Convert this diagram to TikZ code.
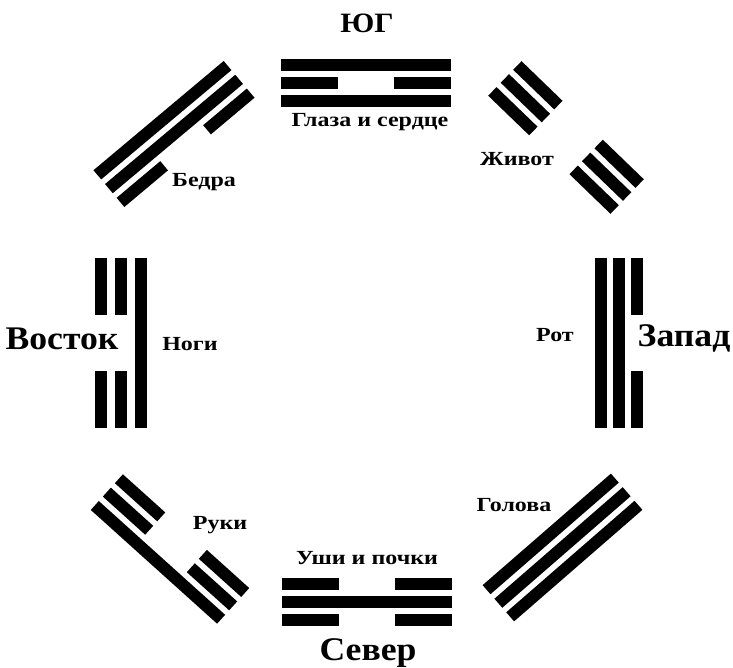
\documentclass[tikz,border=0pt]{standalone}
\usepackage{fontspec}
\setmainfont{Liberation Serif}
\newfontfamily\sidefont[FakeStretch=1.08]{Liberation Serif}
\newfontfamily\partfont[FakeStretch=1.2]{Liberation Serif}
\usepackage{tikz}

% one trigram: [gap], centre, angle, then the three lines (1 solid, 0 broken)
\newcommand{\trigram}[7][18]{%
  \begin{scope}[shift={(#2,#3)}, rotate=#4]
    \foreach \k/\t in {1/#5, 0/#6, -1/#7} {
      \ifnum\t=1
        \fill (-85,\k*#1-6) rectangle (85,\k*#1+6);
      \else
        \fill (-85,\k*#1-6) rectangle (-28,\k*#1+6);
        \fill (28,\k*#1-6) rectangle (85,\k*#1+6);
      \fi
    }
  \end{scope}}

\begin{document}
\begin{tikzpicture}[x=1pt, y=1pt,
    side/.style={font=\sidefont\bfseries\fontsize{33}{33}\selectfont, anchor=base},
    part/.style={font=\partfont\bfseries\fontsize{20}{20}\selectfont, anchor=base}]
  \useasboundingbox (0,0) rectangle (733,668);

  % Trigrams
  \trigram{365.5}{585}{0}{1}{0}{1}
  \trigram{174}{534}{40}{1}{1}{0}
  \trigram{566}{530.5}{-44}{0}{0}{0}
  \trigram[20]{120.5}{325}{90}{0}{0}{1}
  \trigram{619}{325}{90}{1}{1}{0}
  \trigram{170}{119}{-42}{0}{0}{1}
  \trigram{562.5}{120.5}{41}{1}{1}{1}
  \trigram{366.5}{66}{0}{0}{1}{0}

  % Directions
  \node[side, font=\sidefont\bfseries\fontsize{28}{28}\selectfont] (south) at (367,635) {ЮГ};
  \node[side] (east) at (62,318) {Восток};
  \node[side] (west) at (684,321) {Запад};
  \node[side] (north) at (368,7) {Север};

  % Parts of the body
  \node[part] (eyes) at (370,541) {Глаза и сердце};
  \node[part] (belly) at (517,502) {Живот};
  \node[part] (hips) at (204,481) {Бедра};
  \node[part] (legs) at (190,317) {Ноги};
  \node[part] (mouth) at (555,326) {Рот};
  \node[part] (hands) at (220,138) {Руки};
  \node[part] (head) at (514,156) {Голова};
  \node[part] (ears) at (367,103) {Уши и почки};
\end{tikzpicture}
\end{document}
